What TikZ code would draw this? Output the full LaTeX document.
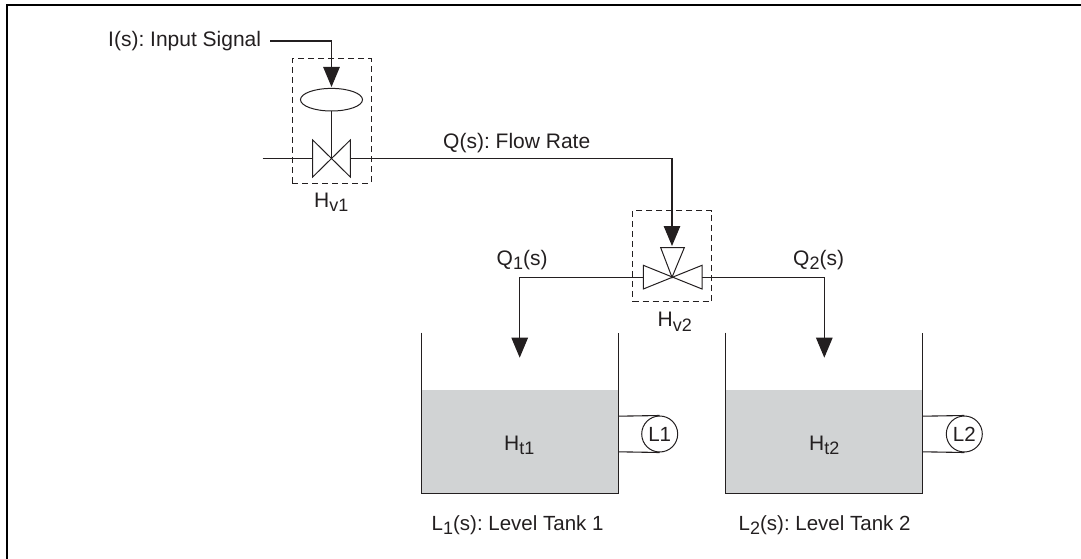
\documentclass[tikz,border=0pt]{standalone}
\usepackage{fontspec}
\setmainfont{Liberation Sans}
\usetikzlibrary{arrows.meta,shapes.geometric}
\definecolor{ink}{HTML}{231F20}
\definecolor{liquid}{HTML}{D1D3D4}
\frenchspacing
\newcommand{\lowsub}[1]{\raisebox{-4.5pt}{\fontsize{18}{20}\selectfont #1}}
\tikzset{
  pipe/.style={draw=ink,line width=1.1pt},
  flow/.style={pipe,-{Triangle[length=20pt,width=16.5pt]}},
  thin part/.style={draw=ink,line width=1pt,line join=miter},
  dashbox/.style={draw=ink,line width=1pt,dash pattern=on 6pt off 4pt},
  tank/.style={draw=ink,line width=1.2pt},
  label/.style={text=ink,font=\fontsize{21}{24}\selectfont,inner sep=0pt},
  tanklabel/.style={label,font=\fontsize{20.5}{24}\selectfont},
  gauge/.style={circle,draw=ink,line width=1pt,fill=white,minimum size=36pt,inner sep=0pt,text=ink,font=\fontsize{20.5}{24}\selectfont},
  actuator/.style={ellipse,draw=ink,line width=1pt,fill=white,minimum width=62pt,minimum height=22.6pt,inner sep=0pt},
}
\begin{document}
\begin{tikzpicture}[x=1pt,y=-1pt]
\useasboundingbox (0,0) rectangle (1081,559);
% frame: top and left edges only
\coordinate (frameTL) at (6.5,5.5);
\draw[black,line width=2pt] (6.5,559) -- (frameTL) -- (1081,5.5);
% coordinates
\coordinate (v1) at (331.5,158.7);
\coordinate (v2) at (672,277.3);
\coordinate (inStart) at (270,41);
\coordinate (inBend) at (331.5,41);
\coordinate (inTip) at (331.5,87);
\coordinate (pipeStart) at (262.7,158.7);
\coordinate (v1L) at (312.7,158.7);
\coordinate (v1R) at (350.3,158.7);
\coordinate (flowBend) at (672,158.7);
\coordinate (flowTip) at (672,246);
\coordinate (v2L) at (643.3,277.3);
\coordinate (v2R) at (702,277.3);
\coordinate (q1Bend) at (519.7,277.3);
\coordinate (q1Tip) at (519.7,357.7);
\coordinate (q2Bend) at (824.3,277.3);
\coordinate (q2Tip) at (824.3,357.7);
% tanks
\fill[liquid] (421.3,390) rectangle (618.3,493.7);
\fill[liquid] (725.7,390) rectangle (922.7,493.7);
\draw[tank] (421.3,332.7) -- (421.3,493.7) -- (618.3,493.7) -- (618.3,332.7);
\draw[tank] (725.7,332.7) -- (725.7,493.7) -- (922.7,493.7) -- (922.7,332.7);
% level gauges
\node[gauge] (L1) at (659.7,434) {L1};
\node[gauge] (L2) at (964.3,434) {L2};
\coordinate (t1a) at (618.3,416.2);
\coordinate (t1b) at (618.3,451.8);
\coordinate (t2a) at (922.7,416.2);
\coordinate (t2b) at (922.7,451.8);
\draw[pipe] (t1a) -- (L1.north);
\draw[pipe] (t1b) -- (L1.south);
\draw[pipe] (t2a) -- (L2.north);
\draw[pipe] (t2b) -- (L2.south);
% dashed enclosures
\node[dashbox,minimum width=79pt,minimum height=124pt,inner sep=0pt] (box1) at (331.5,121) {};
\node[dashbox,minimum width=79.3pt,minimum height=91pt,inner sep=0pt] (box2) at (672.3,256.2) {};
% valve 1
\node[actuator] (act) at (331.5,99.7) {};
\draw[flow] (inStart) -- (inBend) -- (inTip);
\draw[pipe] (act.south) -- (v1);
\draw[pipe] (pipeStart) -- (v1L);
\draw[flow] (v1R) -- (flowBend) -- (flowTip);
\draw[thin part] (312.7,140) -- (350.3,177) -- (350.3,140) -- (312.7,177) -- cycle;
% valve 2
\draw[flow] (v2L) -- (q1Bend) -- (q1Tip);
\draw[flow] (v2R) -- (q2Bend) -- (q2Tip);
\draw[thin part] (643.3,265.3) -- (702,289) -- (702,265.3) -- (643.3,289) -- cycle;
\draw[thin part] (660.7,247.7) -- (684.3,247.7) -- (v2) -- cycle;
% labels
\node[label,anchor=base west] (lblIn) at (108,47) {I(s): Input Signal};
\node[label,anchor=base west] (lblQ) at (443,148) {Q(s): Flow Rate};
\node[label,anchor=base west] (lblQ1) at (496.5,265) {Q\lowsub{1}(s)};
\node[label,anchor=base west] (lblQ2) at (793,265) {Q\lowsub{2}(s)};
\node[label,anchor=base west] (lblH1) at (314,207) {H\lowsub{v1}};
\node[label,anchor=base west] (lblH2) at (657.5,326.5) {H\lowsub{v2}};
\node[label,anchor=base west] (lblT1) at (504,450) {H\lowsub{t1}};
\node[label,anchor=base west] (lblT2) at (809,450) {H\lowsub{t2}};
\node[tanklabel,anchor=base west] (lblL1) at (431.5,530) {L\lowsub{1}(s): Level Tank 1};
\node[tanklabel,anchor=base west] (lblL2) at (738.5,530) {L\lowsub{2}(s): Level Tank 2};
\end{tikzpicture}
\end{document}
